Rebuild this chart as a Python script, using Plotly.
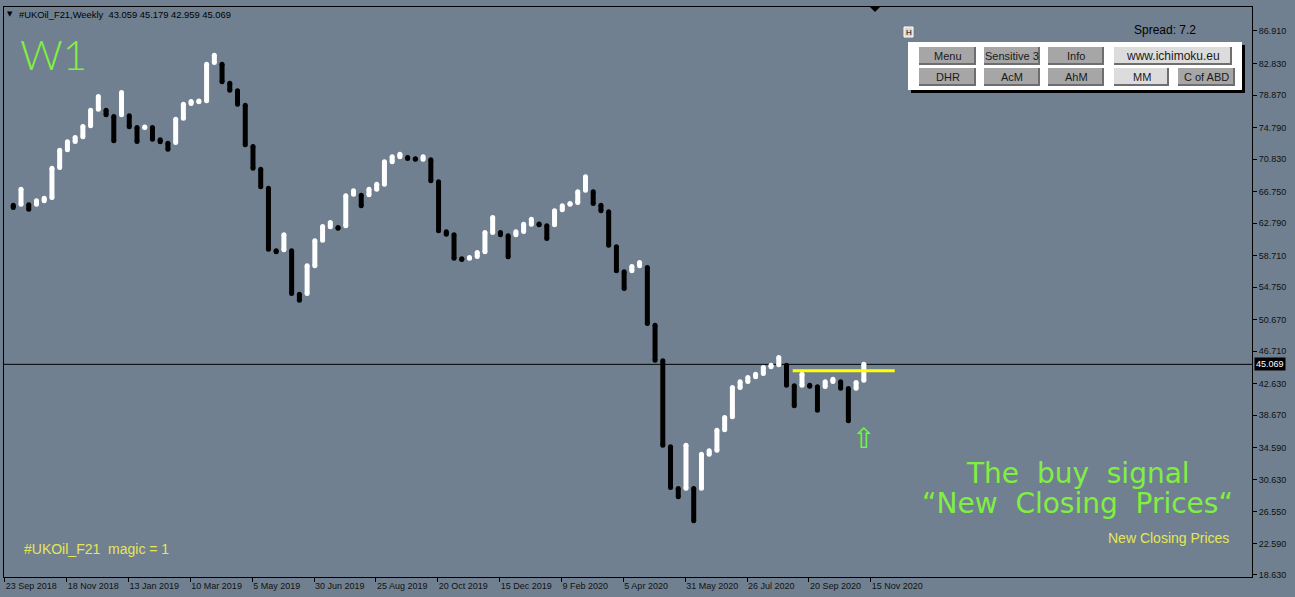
import plotly.graph_objects as go
import pandas as pd

# ---------------- data (weekly bars, #UKOil_F21) ----------------
first_week = "2018-10-07"
opens = [65.04, 65.17, 65.09, 65.17, 65.60, 66.01, 69.78, 71.99, 73.04, 73.63,
         75.01, 77.10, 76.97, 76.18, 76.39, 76.27, 74.80, 74.80, 74.80, 73.25,
         72.83, 72.91, 75.97, 77.81, 78.04, 78.15, 82.96, 82.74, 80.36, 79.40,
         77.60, 72.41, 69.56, 67.18, 59.33, 59.45, 59.32, 53.87, 53.96, 57.44,
         60.65, 62.33, 62.25, 62.46, 66.43, 66.30, 66.35, 67.05, 67.68, 70.49,
         71.12, 71.02, 70.88, 70.82, 70.74, 67.98, 61.71, 61.33, 58.32, 58.37,
         58.60, 59.19, 61.62, 61.62, 61.20, 61.33, 61.74, 62.66, 62.68, 62.46,
         62.58, 64.47, 65.15, 65.38, 66.93, 66.73, 65.04, 64.22, 59.82, 56.69,
         56.81, 57.44, 57.23, 49.98, 45.51, 34.72, 29.48, 29.52, 29.48, 29.52,
         33.79, 34.29, 36.85, 38.49, 42.16, 42.91, 43.51, 43.92, 44.76, 45.01,
         44.96, 42.37, 42.45, 42.43, 42.25, 42.29, 42.91, 42.88, 42.04, 42.07,
         43.059]
closes = [64.76, 67.05, 64.54, 65.60, 65.92, 69.69, 71.95, 73.00, 73.54, 74.92,
          76.97, 78.69, 76.39, 73.13, 79.19, 74.89, 73.04, 74.86, 73.33, 73.00,
          72.07, 75.84, 77.72, 78.06, 78.12, 82.74, 83.87, 80.53, 79.48, 77.72,
          72.63, 69.69, 67.35, 59.52, 59.21, 61.33, 53.96, 53.12, 57.44, 60.58,
          62.37, 62.87, 62.16, 66.22, 66.85, 64.97, 67.05, 67.68, 70.49, 71.12,
          71.45, 70.92, 70.80, 71.12, 68.11, 61.83, 61.40, 58.39, 58.22, 58.48,
          59.11, 61.62, 63.50, 61.33, 58.57, 61.71, 62.66, 63.29, 62.58, 60.86,
          64.34, 64.97, 65.27, 66.73, 68.61, 65.26, 64.34, 60.03, 56.81, 54.59,
          57.35, 57.85, 50.20, 45.59, 34.92, 29.61, 28.44, 34.92, 25.43, 33.79,
          34.22, 36.80, 38.40, 42.16, 42.88, 43.42, 43.83, 44.67, 44.96, 45.93,
          42.45, 39.87, 43.83, 42.31, 39.31, 42.88, 43.20, 42.07, 37.98, 42.79,
          45.069]
last_ohlc = [43.059, 45.179, 42.959, 45.069]

tick_dates = ["2018-09-23", "2018-11-18", "2019-01-13", "2019-03-10", "2019-05-05",
              "2019-06-30", "2019-08-25", "2019-10-20", "2019-12-15", "2020-02-09",
              "2020-04-05", "2020-05-31", "2020-07-26", "2020-09-20", "2020-11-15"]
tick_texts = ["23 Sep 2018", "18 Nov 2018", "13 Jan 2019", "10 Mar 2019", "5 May 2019",
              "30 Jun 2019", "25 Aug 2019", "20 Oct 2019", "15 Dec 2019", "9 Feb 2020",
              "5 Apr 2020", "31 May 2020", "26 Jul 2020", "20 Sep 2020", "15 Nov 2020"]
price_ticks = [86.910, 82.830, 78.870, 74.790, 70.830, 66.750, 62.790, 58.710, 54.750,
               50.670, 46.710, 42.630, 38.670, 34.590, 30.630, 26.550, 22.590, 18.630]
signal_level = 44.25
arrow_price = 35.8

# ---------------- build ----------------
dates = pd.date_range(first_week, periods=len(opens), freq="7D")
week = pd.Timedelta(days=7)

BG = "#708090"
W, H = 1295, 597
ML, MR, MT, MB = 4, 43, 7, 20
PW, PH = W - ML - MR, H - MT - MB


def px(x):
    return (x - ML) / PW


def py(y):
    return (H - MB - y) / PH


up_x, up_y, dn_x, dn_y = [], [], [], []
for d, o, c in zip(dates, opens, closes):
    if c >= o:
        up_x += [d, d, None]
        up_y += [o, c, None]
    else:
        dn_x += [d, d, None]
        dn_y += [o, c, None]

fig = go.Figure()
for xs, ys, col in [(up_x, up_y, "#FFFFFF"), (dn_x, dn_y, "#000000")]:
    fig.add_trace(go.Scatter(
        x=xs, y=ys, mode="lines+markers",
        line=dict(color=col, width=5),
        marker=dict(color=col, size=5),
        hoverinfo="skip", showlegend=False,
        connectgaps=False,
    ))

x_start = dates[0] - 1.2 * week
x_end = dates[0] + 160.2 * week
tick_pos = [pd.Timestamp(t) + pd.Timedelta(days=6.3) for t in tick_dates]

fig.update_layout(
    width=W, height=H,
    margin=dict(l=ML, r=MR, t=MT, b=MB),
    paper_bgcolor=BG, plot_bgcolor=BG,
    showlegend=False,
    xaxis=dict(
        type="date", range=[x_start, x_end],
        tickvals=tick_pos, ticktext=tick_texts,
        ticklabelposition="outside right",
        ticks="outside", ticklen=4, tickcolor="#000000",
        showgrid=False, zeroline=False,
        showline=True, linecolor="#000000", linewidth=1, mirror=True,
        tickfont=dict(family="Liberation Sans, Arial", size=9, color="#111111"),
    ),
    yaxis=dict(
        side="right", range=[18.376, 89.92],
        tickvals=price_ticks, ticktext=[f"{v:.3f}" for v in price_ticks],
        ticks="outside", ticklen=4, tickcolor="#000000",
        showgrid=False, zeroline=False,
        showline=True, linecolor="#000000", linewidth=1, mirror=True,
        tickfont=dict(family="Liberation Sans, Arial", size=9, color="#111111"),
    ),
)

shapes = []
# last price line
shapes.append(dict(type="line", xref="paper", yref="y", x0=0, x1=1,
                   y0=last_ohlc[3], y1=last_ohlc[3],
                   line=dict(color="#000000", width=1), layer="below"))
# yellow signal line
shapes.append(dict(type="line", xref="x", yref="y",
                   x0=dates[100] + 0.8 * week, x1=dates[-1] + 4 * week,
                   y0=signal_level, y1=signal_level,
                   line=dict(color="#FFFF00", width=3)))
# chart-shift marker at top
shapes.append(dict(type="path", xref="paper", yref="paper",
                   path=f"M {px(870)} {py(7)} L {px(880)} {py(7)} L {px(875)} {py(12)} Z",
                   fillcolor="#000000", line=dict(width=0)))

# control panel
shapes.append(dict(type="rect", xref="paper", yref="paper",
                   x0=px(911), x1=px(1245), y0=py(45), y1=py(93),
                   fillcolor="#000000", line=dict(width=0)))
shapes.append(dict(type="rect", xref="paper", yref="paper",
                   x0=px(908), x1=px(1242), y0=py(42), y1=py(90),
                   fillcolor="#FFFFFF", line=dict(width=0)))
buttons = [("Menu", 919, 976, 47, 65, False), ("Sensitive 3", 984, 1040, 47, 65, False),
           ("Info", 1048, 1104, 47, 65, False), ("www.ichimoku.eu", 1114, 1232, 47, 65, True),
           ("DHR", 919, 976, 68, 86, False), ("AcM", 984, 1040, 68, 86, False),
           ("AhM", 1048, 1104, 68, 86, False), ("MM", 1114, 1169, 68, 86, True),
           ("C of ABD", 1178, 1235, 68, 86, False)]
annotations = []
for label, x0, x1, y0, y1, light in buttons:
    fill = "#DCDCDC" if light else "#A6A6A6"
    shapes.append(dict(type="rect", xref="paper", yref="paper",
                       x0=px(x0), x1=px(x1), y0=py(y0), y1=py(y1),
                       fillcolor="#6E6E6E", line=dict(width=0)))
    shapes.append(dict(type="rect", xref="paper", yref="paper",
                       x0=px(x0), x1=px(x1 - 2), y0=py(y0), y1=py(y1 - 2),
                       fillcolor=fill, line=dict(width=0)))
    annotations.append(dict(xref="paper", yref="paper", x=px((x0 + x1) / 2),
                            y=py((y0 + y1) / 2), text=label, showarrow=False,
                            xanchor="center", yanchor="middle",
                            font=dict(family="Liberation Sans, Arial",
                                      size=12 if label == "www.ichimoku.eu" else 11,
                                      color="#1A1A1A")))

# H icon
shapes.append(dict(type="rect", xref="paper", yref="paper",
                   x0=px(904), x1=px(913), y0=py(27), y1=py(37),
                   fillcolor="#D8D8D8", line=dict(color="#FFFFFF", width=1)))
annotations.append(dict(xref="paper", yref="paper", x=px(908.5), y=py(32), text="H",
                        showarrow=False, xanchor="center", yanchor="middle",
                        font=dict(family="Liberation Sans, Arial", size=8, color="#000000")))

# texts
annotations += [
    dict(xref="paper", yref="paper", x=px(5), y=py(14), xanchor="left", yanchor="middle",
         showarrow=False, text="▼",
         font=dict(family="DejaVu Sans", size=7, color="#000000")),
    dict(xref="paper", yref="paper", x=px(17), y=py(14), xanchor="left", yanchor="middle",
         showarrow=False,
         text="#UKOil_F21,Weekly  " + " ".join(f"{v:.3f}" for v in last_ohlc),
         font=dict(family="Liberation Sans, Arial", size=9.4, color="#000000")),
    dict(xref="paper", yref="paper", x=px(18), y=py(54), xanchor="left", yanchor="middle",
         showarrow=False, text="W1",
         font=dict(family="Lato, DejaVu Sans", size=42, color="#80F040", weight=300)),
    dict(xref="paper", yref="paper", x=px(1132), y=py(30), xanchor="left", yanchor="middle",
         showarrow=False, text="Spread: 7.2",
         font=dict(family="Liberation Sans, Arial", size=12, color="#000000")),
    dict(xref="paper", yref="paper", x=px(1078), y=py(473), xanchor="center", yanchor="middle",
         showarrow=False, text="The  buy  signal",
         font=dict(family="DejaVu Sans", size=28, color="#80F040")),
    dict(xref="paper", yref="paper", x=px(1077), y=py(503), xanchor="center", yanchor="middle",
         showarrow=False, text="“New  Closing  Prices“",
         font=dict(family="DejaVu Sans", size=28, color="#80F040")),
    dict(xref="paper", yref="paper", x=px(1231), y=py(538), xanchor="right", yanchor="middle",
         showarrow=False, text="New Closing Prices",
         font=dict(family="Liberation Sans, Arial", size=14, color="#E6E655")),
    dict(xref="paper", yref="paper", x=px(22), y=py(549), xanchor="left", yanchor="middle",
         showarrow=False, text="#UKOil_F21  magic = 1",
         font=dict(family="Liberation Sans, Arial", size=14, color="#E6E655")),
    dict(xref="x", yref="y", x=dates[-1], y=arrow_price, xanchor="center", yanchor="middle",
         showarrow=False, text="⇧",
         font=dict(family="DejaVu Sans", size=28, color="#66FF33")),
    dict(xref="paper", yref="y", x=1.0, y=last_ohlc[3], xanchor="left", yanchor="middle",
         xshift=2, showarrow=False, text=f"{last_ohlc[3]:.3f}", bgcolor="#000000",
         borderpad=1,
         font=dict(family="Liberation Sans, Arial", size=9, color="#FFFFFF")),
]

fig.update_layout(shapes=shapes, annotations=annotations)
fig.write_html(
    "out.html",
    config={"displayModeBar": False},
    post_script="document.body.style.margin='0';document.body.style.overflow='hidden';",
)
